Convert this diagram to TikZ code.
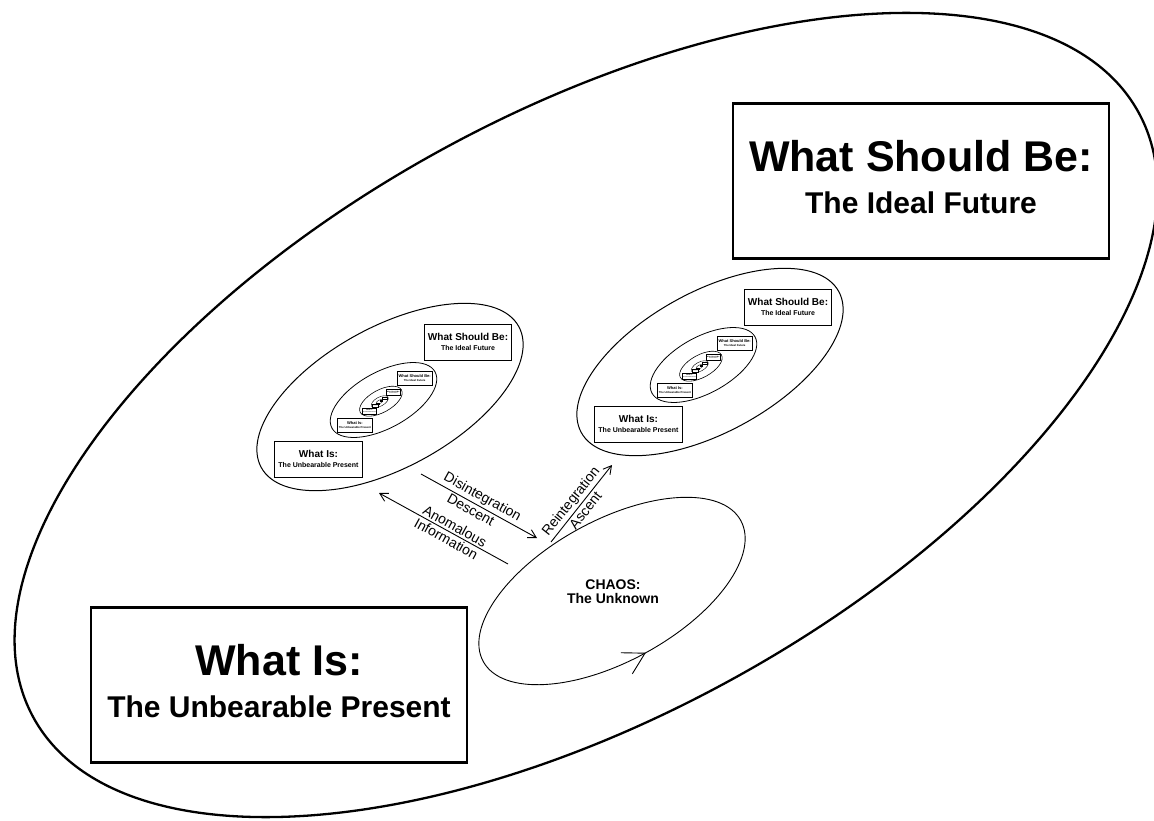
\documentclass[tikz,border=0pt]{standalone}
\usepackage{fontspec}
\setmainfont{Liberation Sans}
\usetikzlibrary{arrows.meta,decorations.markings}

\tikzset{
  lvlbox/.style={draw, rectangle, minimum width=376pt, minimum height=155pt, inner sep=0pt,
    align=center, font=\fontsize{43}{42}\selectfont\bfseries},
  tag/.style={font=\fontsize{14}{15}\selectfont, inner sep=2pt},
  arr/.style={line width=0.9pt, -{Straight Barb[length=8pt,width=9pt]}},
  arrback/.style={line width=0.9pt, {Straight Barb[length=8pt,width=9pt]}-},
  loop arrow/.style={postaction={decorate}, decoration={markings,
    mark=at position 0.75 with {\arrow{Straight Barb[length=21pt,width=24pt]}}}},
}

% one level: ellipse with its two boxes, drawn round the origin
\newcommand{\sublabel}[1]{\\{\fontsize{30}{42}\selectfont #1\rule[-8pt]{0pt}{8pt}}}
\newcommand{\drawlevel}[2]{%
  \draw[line width=#2, rotate=28.7] (0,0) ellipse [x radius=630, y radius=302];
  \node[lvlbox, line width=#2] (#1-should) at (335,-234) {What Should Be:\sublabel{The Ideal Future}};
  \node[lvlbox, line width=#2] (#1-is) at (-307,270) {What Is:\sublabel{The Unbearable Present}};
}

\begin{document}
\begin{tikzpicture}[x=1pt, y=-1pt]
  \useasboundingbox (0,0) rectangle (1154,821);

  % outer level
  \begin{scope}[shift={(586,415)}]
    \drawlevel{top}{2.3pt}
  \end{scope}

  % the two nested copies
  \foreach \side/\cx/\cy in {left/390/397, right/710/362}{
    \foreach \k/\s/\dx/\dy/\lw in {1/0.233/0/0/1pt, 2/0.0932/-6.5/3/0.8pt, 3/0.0373/-9.1/4.2/0.6pt,
                                  4/0.0149/-10.2/4.7/0.4pt, 5/0.006/-10.6/4.9/0.3pt}{
      \begin{scope}[shift={(\cx+\dx,\cy+\dy)}, scale=\s, transform shape]
        \drawlevel{\side-\k}{\lw}
      \end{scope}
    }
  }

  % chaos
  \draw[line width=0.9pt, rotate around={28.7:(612,591)}, loop arrow]
    (612,591) ellipse [x radius=146.8, y radius=-70.4];
  \node[font=\fontsize{14}{14}\selectfont\bfseries, align=center] (chaos) at (613,592) {CHAOS:\\The Unknown};

  \coordinate (dis-a) at (421,474);
  \coordinate (dis-b) at (537,538);
  \coordinate (ano-a) at (379,493);
  \coordinate (ano-b) at (508,564);
  \coordinate (re-a) at (551,542);
  \coordinate (re-b) at (612,465);

  \draw[arr] (dis-a) -- node[tag, above, sloped, pos=0.49] {Disintegration}
                        node[tag, below, sloped, pos=0.46] {Descent} (dis-b);
  \draw[arrback] (ano-a) -- node[tag, above, sloped, pos=0.56] {Anomalous}
                            node[tag, below, sloped, pos=0.55] {Information} (ano-b);
  \draw[arr] (re-a) -- node[tag, above, sloped, pos=0.45] {Reintegration}
                       node[tag, below, sloped, pos=0.47] {Ascent} (re-b);
\end{tikzpicture}
\end{document}
